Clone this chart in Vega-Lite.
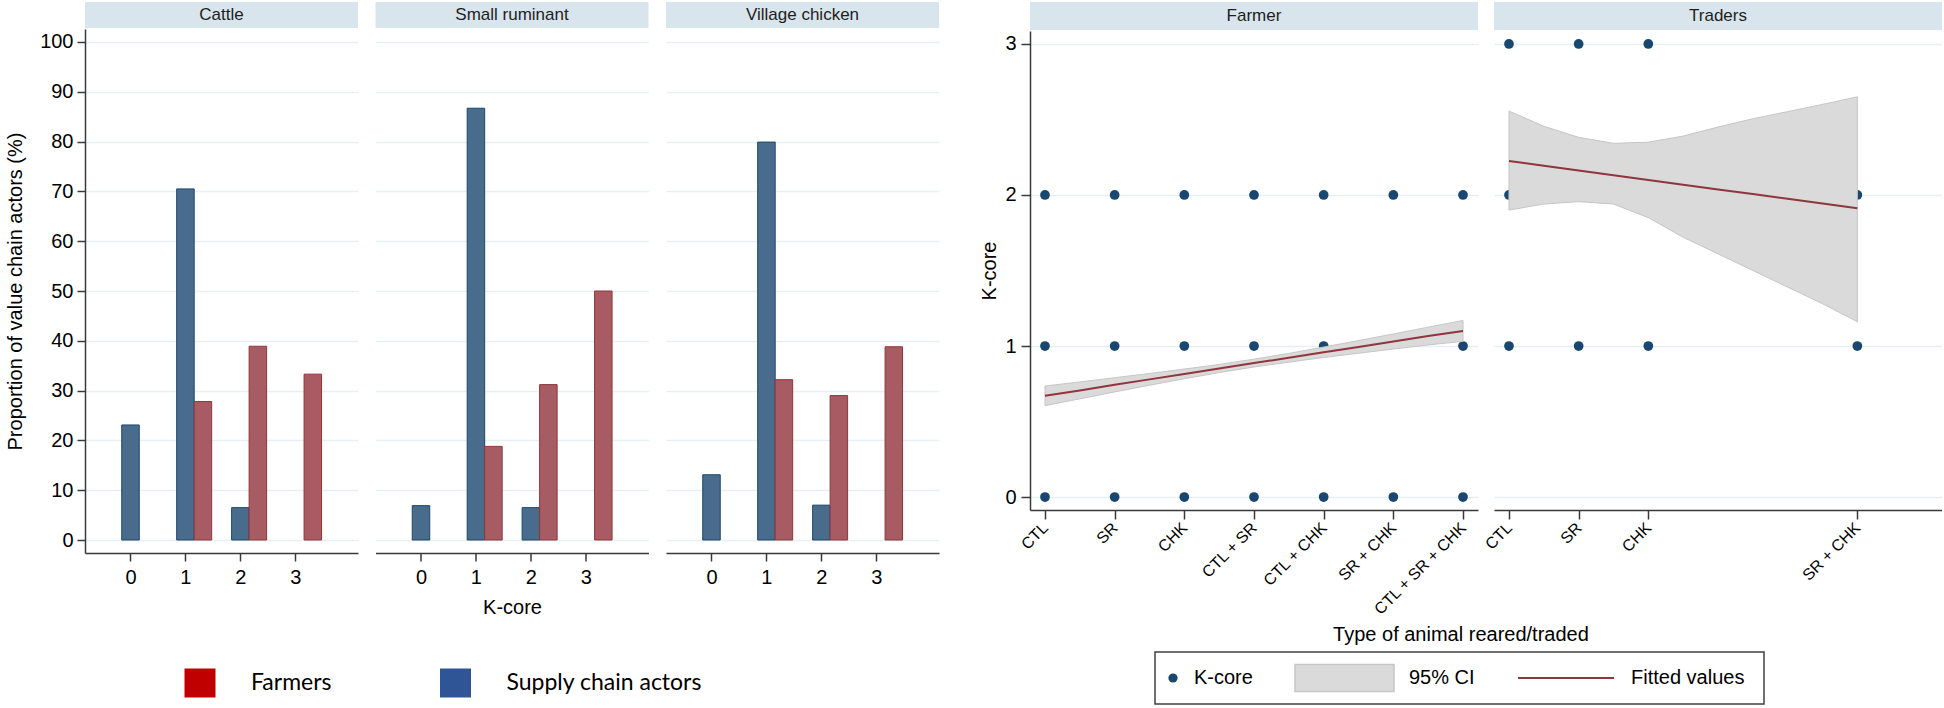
{
  "$schema": "https://vega.github.io/schema/vega-lite/v6.json",
  "background": "white",
  "padding": {"left": 5, "top": 2, "right": 0, "bottom": 0},
  "config": {
    "font": "Liberation Sans",
    "view": {"stroke": null},
    "axis": {
      "domainColor": "#3a3a3a", "domainWidth": 1.5,
      "tickColor": "#3a3a3a", "tickWidth": 1.5,
      "labelColor": "#000000", "titleColor": "#000000",
      "labelFontSize": 20, "titleFontSize": 20, "titleFontWeight": "normal",
      "labelFont": "Liberation Sans", "titleFont": "Liberation Sans",
      "gridColor": "#e6eff2", "gridWidth": 1.5
    },
    "title": {"fontWeight": "normal", "font": "Liberation Sans", "fontSize": 20, "color": "#000000"}
  },
  "datasets": {
    "bars": [
      {"animal": "Cattle", "kcore": 0, "group": "Supply chain actors", "pct": 23.1},
      {"animal": "Cattle", "kcore": 1, "group": "Supply chain actors", "pct": 70.5},
      {"animal": "Cattle", "kcore": 2, "group": "Supply chain actors", "pct": 6.5},
      {"animal": "Cattle", "kcore": 1, "group": "Farmers", "pct": 27.8},
      {"animal": "Cattle", "kcore": 2, "group": "Farmers", "pct": 38.9},
      {"animal": "Cattle", "kcore": 3, "group": "Farmers", "pct": 33.3},
      {"animal": "Small ruminant", "kcore": 0, "group": "Supply chain actors", "pct": 6.9},
      {"animal": "Small ruminant", "kcore": 1, "group": "Supply chain actors", "pct": 86.7},
      {"animal": "Small ruminant", "kcore": 2, "group": "Supply chain actors", "pct": 6.5},
      {"animal": "Small ruminant", "kcore": 1, "group": "Farmers", "pct": 18.8},
      {"animal": "Small ruminant", "kcore": 2, "group": "Farmers", "pct": 31.2},
      {"animal": "Small ruminant", "kcore": 3, "group": "Farmers", "pct": 50.0},
      {"animal": "Village chicken", "kcore": 0, "group": "Supply chain actors", "pct": 13.1},
      {"animal": "Village chicken", "kcore": 1, "group": "Supply chain actors", "pct": 79.9},
      {"animal": "Village chicken", "kcore": 2, "group": "Supply chain actors", "pct": 7.0},
      {"animal": "Village chicken", "kcore": 1, "group": "Farmers", "pct": 32.2},
      {"animal": "Village chicken", "kcore": 2, "group": "Farmers", "pct": 29.0},
      {"animal": "Village chicken", "kcore": 3, "group": "Farmers", "pct": 38.8}
    ],
    "pts": [
      {"actor": "Farmer", "code": 1, "kcore": 0}, {"actor": "Farmer", "code": 2, "kcore": 0},
      {"actor": "Farmer", "code": 3, "kcore": 0}, {"actor": "Farmer", "code": 4, "kcore": 0},
      {"actor": "Farmer", "code": 5, "kcore": 0}, {"actor": "Farmer", "code": 6, "kcore": 0},
      {"actor": "Farmer", "code": 7, "kcore": 0},
      {"actor": "Farmer", "code": 1, "kcore": 1}, {"actor": "Farmer", "code": 2, "kcore": 1},
      {"actor": "Farmer", "code": 3, "kcore": 1}, {"actor": "Farmer", "code": 4, "kcore": 1},
      {"actor": "Farmer", "code": 5, "kcore": 1},
      {"actor": "Farmer", "code": 7, "kcore": 1},
      {"actor": "Farmer", "code": 1, "kcore": 2}, {"actor": "Farmer", "code": 2, "kcore": 2},
      {"actor": "Farmer", "code": 3, "kcore": 2}, {"actor": "Farmer", "code": 4, "kcore": 2},
      {"actor": "Farmer", "code": 5, "kcore": 2}, {"actor": "Farmer", "code": 6, "kcore": 2},
      {"actor": "Farmer", "code": 7, "kcore": 2},
      {"actor": "Traders", "code": 1, "kcore": 1}, {"actor": "Traders", "code": 2, "kcore": 1},
      {"actor": "Traders", "code": 3, "kcore": 1}, {"actor": "Traders", "code": 6, "kcore": 1},
      {"actor": "Traders", "code": 1, "kcore": 2}, {"actor": "Traders", "code": 2, "kcore": 2},
      {"actor": "Traders", "code": 3, "kcore": 2}, {"actor": "Traders", "code": 6, "kcore": 2},
      {"actor": "Traders", "code": 1, "kcore": 3}, {"actor": "Traders", "code": 2, "kcore": 3},
      {"actor": "Traders", "code": 3, "kcore": 3}
    ],
    "fit": [
      {"actor": "Farmer", "code": 1, "fit": 0.670, "lo": 0.605, "hi": 0.735},
      {"actor": "Farmer", "code": 1.5, "fit": 0.706, "lo": 0.650, "hi": 0.762},
      {"actor": "Farmer", "code": 2, "fit": 0.743, "lo": 0.696, "hi": 0.790},
      {"actor": "Farmer", "code": 2.5, "fit": 0.779, "lo": 0.740, "hi": 0.818},
      {"actor": "Farmer", "code": 3, "fit": 0.815, "lo": 0.783, "hi": 0.847},
      {"actor": "Farmer", "code": 3.5, "fit": 0.851, "lo": 0.824, "hi": 0.878},
      {"actor": "Farmer", "code": 4, "fit": 0.887, "lo": 0.861, "hi": 0.913},
      {"actor": "Farmer", "code": 4.5, "fit": 0.922, "lo": 0.893, "hi": 0.951},
      {"actor": "Farmer", "code": 5, "fit": 0.958, "lo": 0.924, "hi": 0.993},
      {"actor": "Farmer", "code": 5.5, "fit": 0.994, "lo": 0.952, "hi": 1.036},
      {"actor": "Farmer", "code": 6, "fit": 1.030, "lo": 0.980, "hi": 1.080},
      {"actor": "Farmer", "code": 6.5, "fit": 1.066, "lo": 1.007, "hi": 1.125},
      {"actor": "Farmer", "code": 7, "fit": 1.100, "lo": 1.031, "hi": 1.169},
      {"actor": "Traders", "code": 1, "fit": 2.225, "lo": 1.900, "hi": 2.556},
      {"actor": "Traders", "code": 1.5, "fit": 2.194, "lo": 1.940, "hi": 2.455},
      {"actor": "Traders", "code": 2, "fit": 2.162, "lo": 1.956, "hi": 2.382},
      {"actor": "Traders", "code": 2.5, "fit": 2.131, "lo": 1.940, "hi": 2.342},
      {"actor": "Traders", "code": 3, "fit": 2.100, "lo": 1.850, "hi": 2.350},
      {"actor": "Traders", "code": 3.5, "fit": 2.068, "lo": 1.720, "hi": 2.390},
      {"actor": "Traders", "code": 4, "fit": 2.037, "lo": 1.610, "hi": 2.450},
      {"actor": "Traders", "code": 4.5, "fit": 2.006, "lo": 1.500, "hi": 2.505},
      {"actor": "Traders", "code": 5, "fit": 1.975, "lo": 1.390, "hi": 2.552},
      {"actor": "Traders", "code": 5.5, "fit": 1.943, "lo": 1.280, "hi": 2.600},
      {"actor": "Traders", "code": 6, "fit": 1.912, "lo": 1.161, "hi": 2.650}
    ]
  },
  "spacing": 40,
  "hconcat": [
    {
      "spacing": 46,
      "vconcat": [
        {
          "columns": 3,
          "spacing": {"row": 1, "column": 17.5},
          "concat": [
            {"width": 273, "height": 26, "view": {"fill": "#d9e5ec", "stroke": null},
             "data": {"values": [{"panel": "Cattle"}]},
             "mark": {"type": "text", "fontSize": 17, "color": "#1e1e1e"},
             "encoding": {"text": {"field": "panel"}}},
            {"width": 273, "height": 26, "view": {"fill": "#d9e5ec", "stroke": null},
             "data": {"values": [{"panel": "Small ruminant"}]},
             "mark": {"type": "text", "fontSize": 17, "color": "#1e1e1e"},
             "encoding": {"text": {"field": "panel"}}},
            {"width": 273, "height": 26, "view": {"fill": "#d9e5ec", "stroke": null},
             "data": {"values": [{"panel": "Village chicken"}]},
             "mark": {"type": "text", "fontSize": 17, "color": "#1e1e1e"},
             "encoding": {"text": {"field": "panel"}}},
            {
              "width": 273, "height": 524,
              "data": {"name": "bars"},
              "transform": [{"filter": "datum.animal === 'Cattle'"}],
              "encoding": {
                "x": {"field": "kcore", "type": "quantitative", "scale": {"domain": [-0.737, 4.05], "nice": false, "zero": false},
                      "axis": {"values": [0, 1, 2, 3], "format": "d", "title": null, "grid": false, "tickSize": 8, "labelPadding": 6}},
                "y": {"field": "pct", "type": "quantitative", "scale": {"domain": [-2.61, 102.61], "nice": false, "zero": false},
                      "axis": {"values": [0, 10, 20, 30, 40, 50, 60, 70, 80, 90, 100], "title": "Proportion of value chain actors (%)", "tickSize": 8, "labelPadding": 4, "titlePadding": 14, "grid": true}}
              },
              "layer": [
                {"transform": [{"filter": "datum.group === 'Supply chain actors'"}],
                 "mark": {"type": "bar", "width": 17.5, "fill": "#4a6c8c", "stroke": "#1a476f", "strokeWidth": 1}},
                {"transform": [{"filter": "datum.group === 'Farmers'"}],
                 "mark": {"type": "bar", "width": 17.5, "xOffset": 17.5, "fill": "#a65c62", "stroke": "#90353b", "strokeWidth": 1}}
              ]
            },
            {
              "width": 273, "height": 524,
              "data": {"name": "bars"},
              "transform": [{"filter": "datum.animal === 'Small ruminant'"}],
              "encoding": {
                "x": {"field": "kcore", "type": "quantitative", "scale": {"domain": [-0.737, 4.05], "nice": false, "zero": false},
                      "axis": {"values": [0, 1, 2, 3], "format": "d", "title": "K-core", "titlePadding": 10, "grid": false, "tickSize": 8, "labelPadding": 6}},
                "y": {"field": "pct", "type": "quantitative", "scale": {"domain": [-2.61, 102.61], "nice": false, "zero": false},
                      "axis": {"values": [0, 10, 20, 30, 40, 50, 60, 70, 80, 90, 100], "title": null, "labels": false, "ticks": false, "domain": false, "grid": true}}
              },
              "layer": [
                {"transform": [{"filter": "datum.group === 'Supply chain actors'"}],
                 "mark": {"type": "bar", "width": 17.5, "fill": "#4a6c8c", "stroke": "#1a476f", "strokeWidth": 1}},
                {"transform": [{"filter": "datum.group === 'Farmers'"}],
                 "mark": {"type": "bar", "width": 17.5, "xOffset": 17.5, "fill": "#a65c62", "stroke": "#90353b", "strokeWidth": 1}}
              ]
            },
            {
              "width": 273, "height": 524,
              "data": {"name": "bars"},
              "transform": [{"filter": "datum.animal === 'Village chicken'"}],
              "encoding": {
                "x": {"field": "kcore", "type": "quantitative", "scale": {"domain": [-0.737, 4.05], "nice": false, "zero": false},
                      "axis": {"values": [0, 1, 2, 3], "format": "d", "title": null, "grid": false, "tickSize": 8, "labelPadding": 6}},
                "y": {"field": "pct", "type": "quantitative", "scale": {"domain": [-2.61, 102.61], "nice": false, "zero": false},
                      "axis": {"values": [0, 10, 20, 30, 40, 50, 60, 70, 80, 90, 100], "title": null, "labels": false, "ticks": false, "domain": false, "grid": true}}
              },
              "layer": [
                {"transform": [{"filter": "datum.group === 'Supply chain actors'"}],
                 "mark": {"type": "bar", "width": 17.5, "fill": "#4a6c8c", "stroke": "#1a476f", "strokeWidth": 1}},
                {"transform": [{"filter": "datum.group === 'Farmers'"}],
                 "mark": {"type": "bar", "width": 17.5, "xOffset": 17.5, "fill": "#a65c62", "stroke": "#90353b", "strokeWidth": 1}}
              ]
            }
          ]
        },
        {
          "width": 511, "height": 40,
          "data": {"values": [{"grp": "Farmers"}, {"grp": "Supply chain actors"}]},
          "encoding": {"x": {"field": "grp", "type": "nominal", "scale": {"type": "band", "domain": ["Farmers", "Supply chain actors"], "paddingInner": 0, "paddingOuter": 0}, "axis": null}},
          "layer": [
            {"mark": {"type": "point", "shape": "M-1,-0.935L1,-0.935L1,0.935L-1,0.935Z", "size": 961, "filled": true, "opacity": 1, "xOffset": -12.75},
             "encoding": {"color": {"field": "grp", "type": "nominal", "scale": {"domain": ["Farmers", "Supply chain actors"], "range": ["#c00000", "#2f5597"]}, "legend": null}}},
            {"mark": {"type": "text", "align": "left", "xOffset": -12.75, "dx": 51, "font": "Lato", "fontSize": 23, "color": "#000000"},
             "encoding": {"text": {"field": "grp"}}}
          ]
        }
      ]
    },
    {
      "spacing": 5,
      "vconcat": [
        {
          "title": {"text": "Type of animal reared/traded", "orient": "bottom", "anchor": "middle", "offset": 8, "fontSize": 20},
          "columns": 2,
          "spacing": {"row": 1, "column": 3},
          "concat": [
            {"width": 448, "height": 28, "view": {"fill": "#d9e5ec", "stroke": null},
             "data": {"values": [{"panel": "Farmer"}]},
             "mark": {"type": "text", "fontSize": 17, "color": "#1e1e1e"},
             "encoding": {"text": {"field": "panel"}}},
            {"width": 448, "height": 28, "view": {"fill": "#d9e5ec", "stroke": null},
             "data": {"values": [{"panel": "Traders"}]},
             "mark": {"type": "text", "fontSize": 17, "color": "#1e1e1e"},
             "encoding": {"text": {"field": "panel"}}},
            {
              "width": 448, "height": 479,
              "layer": [
                {"data": {"name": "pts"}, "transform": [{"filter": "datum.actor === 'Farmer'"}],
                 "mark": {"type": "point", "filled": true, "size": 95, "color": "#1a476f", "opacity": 1},
                 "encoding": {
                   "x": {"field": "code", "type": "quantitative", "title": null, "scale": {"domain": [0.785, 7.215], "nice": false, "zero": false},
                         "axis": {"values": [1, 2, 3, 4, 5, 6, 7], "labelExpr": "['', 'CTL', 'SR', 'CHK', 'CTL + SR', 'CTL + CHK', 'SR + CHK', 'CTL + SR + CHK'][datum.value]", "labelAngle": -45, "labelAlign": "right", "labelBaseline": "middle", "labelFontSize": 16, "labelOverlap": false, "tickSize": 9, "labelPadding": 6, "grid": false}},
                   "y": {"field": "kcore", "type": "quantitative", "title": "K-core", "scale": {"domain": [-0.086, 3.086], "nice": false, "zero": false},
                         "axis": {"values": [0, 1, 2, 3], "format": "d", "tickSize": 9, "labelPadding": 5, "titlePadding": 5, "grid": true}}
                 }},
                {"data": {"name": "fit"}, "transform": [{"filter": "datum.actor === 'Farmer'"}],
                 "mark": {"type": "area", "fill": "#dadada", "stroke": "#c6c6c6", "strokeWidth": 1, "opacity": 1},
                 "encoding": {
                   "x": {"field": "code", "type": "quantitative", "title": null},
                   "y": {"field": "lo", "type": "quantitative", "title": "K-core"},
                   "y2": {"field": "hi"}
                 }},
                {"data": {"name": "fit"}, "transform": [{"filter": "datum.actor === 'Farmer'"}],
                 "mark": {"type": "line", "color": "#90353b", "strokeWidth": 2},
                 "encoding": {
                   "x": {"field": "code", "type": "quantitative", "title": null},
                   "y": {"field": "fit", "type": "quantitative", "title": "K-core"}
                 }}
              ]
            },
            {
              "width": 448, "height": 479,
              "layer": [
                {"data": {"name": "pts"}, "transform": [{"filter": "datum.actor === 'Traders'"}],
                 "mark": {"type": "point", "filled": true, "size": 95, "color": "#1a476f", "opacity": 1},
                 "encoding": {
                   "x": {"field": "code", "type": "quantitative", "title": null, "scale": {"domain": [0.785, 7.215], "nice": false, "zero": false},
                         "axis": {"values": [1, 2, 3, 6], "labelExpr": "['', 'CTL', 'SR', 'CHK', 'CTL + SR', 'CTL + CHK', 'SR + CHK', 'CTL + SR + CHK'][datum.value]", "labelAngle": -45, "labelAlign": "right", "labelBaseline": "middle", "labelFontSize": 16, "labelOverlap": false, "tickSize": 9, "labelPadding": 6, "grid": false}},
                   "y": {"field": "kcore", "type": "quantitative", "title": null, "scale": {"domain": [-0.086, 3.086], "nice": false, "zero": false},
                         "axis": {"values": [0, 1, 2, 3], "labels": false, "ticks": false, "domain": false, "grid": true}}
                 }},
                {"data": {"name": "fit"}, "transform": [{"filter": "datum.actor === 'Traders'"}],
                 "mark": {"type": "area", "fill": "#dadada", "stroke": "#c6c6c6", "strokeWidth": 1, "opacity": 1},
                 "encoding": {
                   "x": {"field": "code", "type": "quantitative", "title": null},
                   "y": {"field": "lo", "type": "quantitative", "title": null},
                   "y2": {"field": "hi"}
                 }},
                {"data": {"name": "fit"}, "transform": [{"filter": "datum.actor === 'Traders'"}],
                 "mark": {"type": "line", "color": "#90353b", "strokeWidth": 2},
                 "encoding": {
                   "x": {"field": "code", "type": "quantitative", "title": null},
                   "y": {"field": "fit", "type": "quantitative", "title": null}
                 }}
              ]
            }
          ]
        },
        {
          "spacing": 0,
          "hconcat": [
            {"width": 124, "height": 52, "data": {"values": []}, "mark": "point"},
            {
              "width": 609, "height": 52,
              "view": {"stroke": "#404040", "strokeWidth": 1.5, "fill": "white"},
              "data": {"values": [{"item": "K-core"}, {"item": "95% CI"}, {"item": "Fitted values"}]},
              "encoding": {"x": {"field": "item", "type": "nominal", "scale": {"type": "band", "domain": ["K-core", "95% CI", "Fitted values"], "paddingInner": 0, "paddingOuter": 0}, "axis": null}},
              "layer": [
                {"transform": [{"filter": "datum.item === 'K-core'"}],
                 "mark": {"type": "point", "filled": true, "size": 85, "color": "#1a476f", "opacity": 1, "xOffset": -83.5}},
                {"transform": [{"filter": "datum.item === '95% CI'"}],
                 "mark": {"type": "point", "shape": "M-1,-0.273L1,-0.273L1,0.273L-1,0.273Z", "size": 9801, "filled": true, "fill": "#dadada", "stroke": "#c6c6c6", "strokeWidth": 1.5, "opacity": 1, "xOffset": -115}},
                {"transform": [{"filter": "datum.item === 'Fitted values'"}],
                 "mark": {"type": "point", "shape": "stroke", "size": 9216, "filled": false, "stroke": "#90353b", "strokeWidth": 2, "opacity": 1, "xOffset": -96.5}},
                {"transform": [{"filter": "datum.item === 'K-core'"}],
                 "mark": {"type": "text", "align": "left", "xOffset": -62.5, "fontSize": 20, "color": "#000000"},
                 "encoding": {"text": {"field": "item"}}},
                {"transform": [{"filter": "datum.item === '95% CI'"}],
                 "mark": {"type": "text", "align": "left", "xOffset": -50.5, "fontSize": 20, "color": "#000000"},
                 "encoding": {"text": {"field": "item"}}},
                {"transform": [{"filter": "datum.item === 'Fitted values'"}],
                 "mark": {"type": "text", "align": "left", "xOffset": -31.5, "fontSize": 20, "color": "#000000"},
                 "encoding": {"text": {"field": "item"}}}
              ]
            }
          ]
        }
      ]
    }
  ]
}
